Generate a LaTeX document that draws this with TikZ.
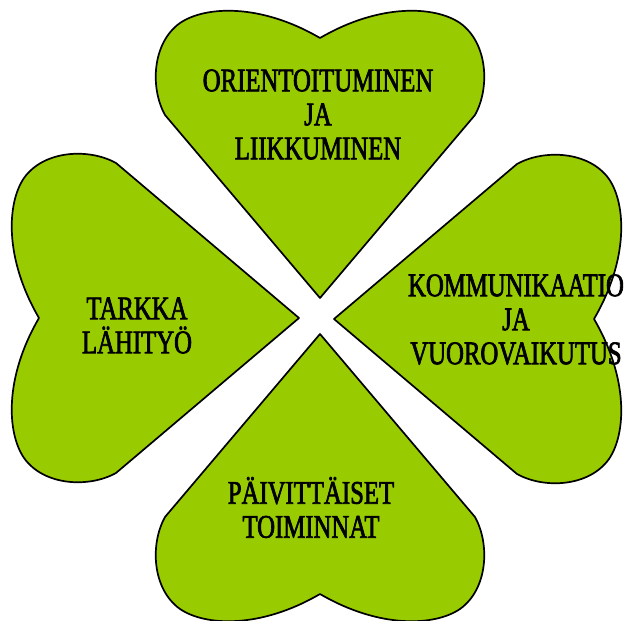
\documentclass[tikz,border=0pt]{standalone}
\usepackage{fontspec}
\usepackage{tikz}
\setmainfont{Liberation Serif}
\newfontfamily\leaffont[FakeStretch=0.75, FakeBold=2]{Liberation Serif}
\definecolor{leafgreen}{RGB}{153,204,0}

\tikzset{
  cloverleaf/.pic={
    \filldraw[fill=leafgreen, draw=black, line width=1.7pt, line join=round]
      (0,0) -- (-155,183)
      .. controls (-170,210) and (-168,255) .. (-140,275)
      .. controls (-115,292) and (-60,295) .. (0,260)
      .. controls (60,295) and (115,292) .. (140,275)
      .. controls (168,255) and (170,210) .. (155,183) -- cycle;
  },
  leaftext/.style={align=center, font=\leaffont\fontsize{33}{34}\selectfont, inner sep=0pt}
}

\begin{document}
\begin{tikzpicture}[x=1pt, y=1pt]
  \useasboundingbox (0,-621) rectangle (633,0);

  % leaves
  \pic at (320,-298) {cloverleaf};
  \pic[rotate=180] at (320,-334) {cloverleaf};
  \pic[rotate=90] at (299,-318) {cloverleaf};
  \pic[rotate=-90] at (334,-319) {cloverleaf};

  % labels
  \node[leaftext] (orient) at (318,-114.5) {ORIENTOITUMINEN\\JA\\LIIKKUMINEN};
  \node[leaftext] (kommun) at (516,-319.5) {KOMMUNIKAATIO\\JA\\VUOROVAIKUTUS};
  \node[leaftext] (tarkka) at (137,-325.5) {TARKKA\\LÄHITYÖ};
  \node[leaftext] (paivit) at (311,-507.5) {PÄIVITTÄISET\\TOIMINNAT};
\end{tikzpicture}
\end{document}
